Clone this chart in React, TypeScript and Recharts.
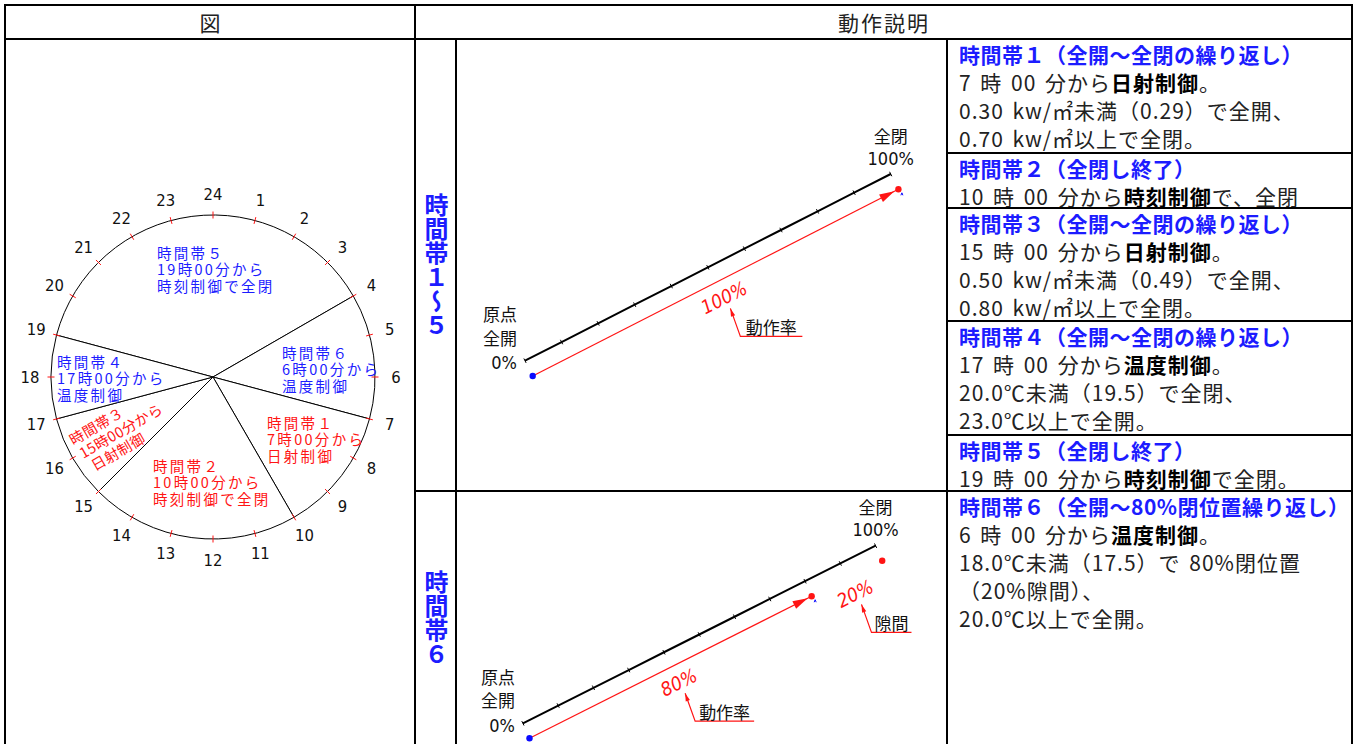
import React from 'react'
import { PieChart, Pie, ComposedChart, Line, XAxis, YAxis, ReferenceDot } from 'recharts'

const BLUE = '#1c1cff'
const RED = '#ff1414'
const INK = '#222'
const JP = "'Noto Sans CJK JP', 'Noto Sans', sans-serif"
const NARROW = "'Liberation Sans Narrow', 'DejaVu Sans Condensed', 'Liberation Sans', sans-serif"
const RAD = Math.PI / 180

// 24時間の時計
const hours = [24, 1, 2, 3, 4, 5, 6, 7, 8, 9, 10, 11, 12, 13, 14, 15, 16, 17, 18, 19, 20, 21, 22, 23]
const bandStart = [19, 4, 7, 10, 15, 17]
const bandTitle = ['時間帯５', '時間帯６', '時間帯１', '時間帯２', '時間帯３', '時間帯４']
const bandFrom = ['19時00分から', '6時00分から', '7時00分から', '10時00分から', '15時00分から', '17時00分から']
const bandMode = ['時刻制御で全閉', '温度制御', '日射制御', '時刻制御で全閉', '日射制御', '温度制御']

// 動作率の図
const scaleSteps = [0, 10, 20, 30, 40, 50, 60, 70, 80, 90, 100]
const rate15 = [0, 100]
const rate6 = [0, 80]
const fullClose = 100

// 動作説明
const rowTitle = [
  '時間帯１（全開～全閉の繰り返し）',
  '時間帯２（全閉し終了）',
  '時間帯３（全開～全閉の繰り返し）',
  '時間帯４（全開～全閉の繰り返し）',
  '時間帯５（全閉し終了）',
  '時間帯６（全開～80%閉位置繰り返し）',
]
const rowBody = [
  ['7 時 00 分から**日射制御**。', '0.30 kw/㎡未満（0.29）で全開、', '0.70 kw/㎡以上で全閉。'],
  ['10 時 00 分から**時刻制御**で、全閉'],
  ['15 時 00 分から**日射制御**。', '0.50 kw/㎡未満（0.49）で全開、', '0.80 kw/㎡以上で全閉。'],
  ['17 時 00 分から**温度制御**。', '20.0℃未満（19.5）で全閉、', '23.0℃以上で全開。'],
  ['19 時 00 分から**時刻制御**で全閉。'],
  ['6 時 00 分から**温度制御**。', '18.0℃未満（17.5）で 80%閉位置', '（20%隙間）、', '20.0℃以上で全開。'],
]
const rowTop = [39, 153, 208, 321, 435, 491]

const bandLabelPos = [
  { dx: -56, dy: -125, color: BLUE, rot: 0, ls: 2.3, shift: [0, 0, 0] },
  { dx: 69, dy: -25, color: BLUE, rot: 0, ls: 2.3, shift: [0, 0, 0] },
  { dx: 54, dy: 45, color: RED, rot: 0, ls: 2.3, shift: [0, 0, 0] },
  { dx: -60, dy: 88, color: RED, rot: 0, ls: 2.3, shift: [0, 0, 0] },
  { dx: -143, dy: 63, color: RED, rot: -30, ls: 0.4, shift: [0, 2, 6] },
  { dx: -156, dy: -16, color: BLUE, rot: 0, ls: 2.3, shift: [0, 0, 0] },
]

const bandData = bandStart.map((h, i) => ({
  name: bandTitle[i],
  hours: (bandStart[(i + 1) % bandStart.length] - h + 24) % 24,
}))
const hourData = hours.map((h) => ({ hour: h, v: 1 }))

function Rule({ x, y, w, h }: { x: number; y: number; w: number; h: number }) {
  return <div style={{ position: 'absolute', left: x, top: y, width: w, height: h, background: '#000' }} />
}

function renderBandLabel(p: any) {
  const L = bandLabelPos[p.index]
  const x = p.cx + L.dx
  const y = p.cy + L.dy
  const lines = [bandTitle[p.index], bandFrom[p.index], bandMode[p.index]]
  return (
    <g key={`band-${p.index}`} transform={`translate(${x} ${y}) rotate(${L.rot})`}>
      {lines.map((t, i) => (
        <text
          key={i}
          x={L.shift[i]}
          y={i * 16.6}
          dominantBaseline="central"
          fill={L.color}
          fontSize={14.5}
          letterSpacing={L.ls}
          fontFamily={JP}
        >
          {t}
        </text>
      ))}
    </g>
  )
}

function renderHour(p: any) {
  const a = -p.midAngle * RAD
  const c = Math.cos(a)
  const s = Math.sin(a)
  const r = p.outerRadius
  const tr = r + 21
  return (
    <g key={`hour-${p.index}`}>
      <line x1={p.cx + c * (r - 3.5)} y1={p.cy + s * (r - 3.5)} x2={p.cx + c * (r + 3.5)} y2={p.cy + s * (r + 3.5)} stroke={RED} strokeWidth={1} />
      <text
        x={p.cx + c * tr}
        y={p.cy + s * tr}
        textAnchor="middle"
        dominantBaseline="central"
        fontSize={16.5}
        fill="#111"
        fontFamily={NARROW}
      >
        {hours[p.index]}
      </text>
    </g>
  )
}

function Clock() {
  const start = (((90 - bandStart[0] * 15) % 360) + 360) % 360
  return (
    <PieChart width={408} height={560} margin={{ top: 0, right: 0, bottom: 0, left: 0 }}>
      <Pie
        data={bandData}
        dataKey="hours"
        cx={207}
        cy={337}
        innerRadius={0}
        outerRadius={162}
        startAngle={start}
        endAngle={start - 360}
        fill="#fff"
        stroke="#000"
        strokeWidth={1}
        label={renderBandLabel}
        labelLine={false}
        isAnimationActive={false}
      />
      <Pie
        data={hourData}
        dataKey="v"
        cx={207}
        cy={337}
        innerRadius={0}
        outerRadius={162}
        startAngle={97.5}
        endAngle={-262.5}
        fill="none"
        stroke="none"
        label={renderHour}
        labelLine={false}
        isAnimationActive={false}
      />
    </PieChart>
  )
}

type Note = { at: number; text: string; tag: string; tagW: number }

function Diagram({
  w,
  h,
  p0,
  p100,
  shift,
  rate,
  gapEnd,
  notes,
}: {
  w: number
  h: number
  p0: [number, number]
  p100: [number, number]
  shift: [number, number]
  rate: number[]
  gapEnd?: number
  notes: Note[]
}) {
  const sx = (p100[0] - p0[0]) / 100
  const sy = (p0[1] - p100[1]) / 100
  const xLo = -p0[0] / sx
  const xHi = (w - p0[0]) / sx
  const yHi = p0[1] / sy
  const yLo = (p0[1] - h) / sy
  const xr: [number, number] = [xLo - shift[0] / sx, xHi - shift[0] / sx]
  const yr: [number, number] = [yLo + shift[1] / sy, yHi + shift[1] / sy]

  const ang = Math.atan2(p100[1] - p0[1], p100[0] - p0[0])
  const ux = Math.cos(ang)
  const uy = Math.sin(ang)
  const px = -uy
  const py = ux
  const angDeg = ang / RAD

  const black = scaleSteps.map((v) => ({ p: v, q: v }))
  const red = rate.map((v) => ({ p: v, q: v }))

  const tickDot = (d: any) => (
    <line
      key={`t${d.index}`}
      x1={d.cx - px * 2.5}
      y1={d.cy - py * 2.5}
      x2={d.cx + px * 2.5}
      y2={d.cy + py * 2.5}
      stroke="#000"
      strokeWidth={1}
    />
  )

  const redDot = (d: any) => {
    if (d.index === 0) return <circle key="r0" cx={d.cx} cy={d.cy} r={3.2} fill="#0a0aff" />
    if (d.index !== red.length - 1) return <g key={`r${d.index}`} />
    const tx = d.cx - ux * 4.5
    const ty = d.cy - uy * 4.5
    const bx = tx - ux * 15
    const by = ty - uy * 15
    return (
      <g key={`r${d.index}`}>
        <polygon
          points={`${tx},${ty} ${bx + px * 4.2},${by + py * 4.2} ${bx - px * 4.2},${by - py * 4.2}`}
          fill={RED}
        />
        <circle cx={d.cx} cy={d.cy} r={3.2} fill={RED} />
        <path d={`M${d.cx + 2.5} ${d.cy + 6} L${d.cx + 3.5} ${d.cy + 3.5} L${d.cx + 4.5} ${d.cy + 6}`} stroke="#0a0aff" strokeWidth={1} fill="none" />
      </g>
    )
  }

  const originShape = (d: any) => (
    <g>
      {['原点', '全開'].map((t, i) => (
        <text key={t} x={d.cx - 8} y={d.cy - 47 + i * 23.5} textAnchor="end" dominantBaseline="central" fontSize={17} fill="#111" fontFamily={JP}>
          {t}
        </text>
      ))}
      <text x={d.cx - 8} y={d.cy + 2} textAnchor="end" dominantBaseline="central" fontSize={18} fill="#111" fontFamily={NARROW}>
        0%
      </text>
    </g>
  )

  const endShape = (d: any) => (
    <g>
      <text x={d.cx} y={d.cy - 39} textAnchor="middle" dominantBaseline="central" fontSize={17} fill="#111" fontFamily={JP}>
        全閉
      </text>
      <text x={d.cx} y={d.cy - 16} textAnchor="middle" dominantBaseline="central" fontSize={18} fill="#111" fontFamily={NARROW}>
        100%
      </text>
    </g>
  )

  const noteShape = (n: Note) => (d: any) => {
    const lx = d.cx + 1
    const ly = d.cy + 18.5
    const tip = [lx + 6.5, ly + 11]
    const cor = [lx + 16.5, ly + 39]
    const len = Math.hypot(tip[0] - cor[0], tip[1] - cor[1])
    const dx = (tip[0] - cor[0]) / len
    const dy = (tip[1] - cor[1]) / len
    const bx = tip[0] - dx * 8
    const by = tip[1] - dy * 8
    return (
      <g>
        <text
          x={lx}
          y={ly}
          transform={`rotate(${angDeg} ${lx} ${ly})`}
          textAnchor="middle"
          dominantBaseline="central"
          fill={RED}
          fontSize={19}
          fontStyle="italic"
          fontFamily={NARROW}
        >
          {n.text}
        </text>
        <polyline
          points={`${tip[0]},${tip[1]} ${cor[0]},${cor[1]} ${cor[0] + n.tagW},${cor[1]}`}
          fill="none"
          stroke={RED}
          strokeWidth={1.2}
        />
        <polygon
          points={`${tip[0]},${tip[1]} ${bx - dy * 2.2},${by + dx * 2.2} ${bx + dy * 2.2},${by - dx * 2.2}`}
          fill={RED}
        />
        <text
          x={cor[0] + n.tagW / 2}
          y={cor[1] - 10}
          textAnchor="middle"
          dominantBaseline="central"
          fontSize={17}
          fill="#111"
          fontFamily={JP}
        >
          {n.tag}
        </text>
      </g>
    )
  }

  return (
    <ComposedChart width={w} height={h} margin={{ top: 0, right: 0, bottom: 0, left: 0 }}>
      <XAxis xAxisId="b" type="number" dataKey="p" domain={[xLo, xHi]} allowDataOverflow hide />
      <YAxis yAxisId="b" type="number" domain={[yLo, yHi]} allowDataOverflow hide />
      <XAxis xAxisId="r" type="number" dataKey="p" domain={xr} allowDataOverflow hide />
      <YAxis yAxisId="r" type="number" domain={yr} allowDataOverflow hide />
      <Line
        xAxisId="b"
        yAxisId="b"
        data={black}
        dataKey="q"
        stroke="#000"
        strokeWidth={2}
        dot={tickDot}
        activeDot={false}
        isAnimationActive={false}
      />
      <Line
        xAxisId="r"
        yAxisId="r"
        data={red}
        dataKey="q"
        stroke={RED}
        strokeWidth={1.2}
        dot={redDot}
        activeDot={false}
        isAnimationActive={false}
      />
      {gapEnd !== undefined && (
        <ReferenceDot xAxisId="r" yAxisId="r" x={gapEnd} y={gapEnd} r={3.2} fill={RED} stroke="none" />
      )}
      <ReferenceDot xAxisId="b" yAxisId="b" x={scaleSteps[0]} y={scaleSteps[0]} r={1} shape={originShape} />
      <ReferenceDot
        xAxisId="b"
        yAxisId="b"
        x={scaleSteps[scaleSteps.length - 1]}
        y={scaleSteps[scaleSteps.length - 1]}
        r={1}
        shape={endShape}
      />
      {notes.map((n) => (
        <ReferenceDot key={n.text} xAxisId="r" yAxisId="r" x={n.at} y={n.at} r={1} shape={noteShape(n)} />
      ))}
    </ComposedChart>
  )
}

function rich(s: string) {
  return s.split('**').map((part, i) =>
    i % 2 ? (
      <b key={i} style={{ color: '#000', fontWeight: 700 }}>
        {part}
      </b>
    ) : (
      <span key={i}>{part}</span>
    ),
  )
}

export default function App() {
  const vert: React.CSSProperties = {
    position: 'absolute',
    left: 416,
    width: 40,
    display: 'flex',
    alignItems: 'center',
    justifyContent: 'center',
    writingMode: 'vertical-rl',
    textOrientation: 'upright',
    color: BLUE,
    fontWeight: 700,
    fontSize: 24,
    lineHeight: 1,
    fontFamily: JP,
  }
  return (
    <div
      style={{
        position: 'fixed',
        left: 0,
        top: 0,
        width: 1358,
        height: 744,
        background: '#fff',
        overflow: 'hidden',
        fontFamily: JP,
      }}
    >
      {/* header */}
      <div style={{ position: 'absolute', left: 5, top: 6, width: 410, height: 33, lineHeight: '33px', textAlign: 'center', fontSize: 21, color: INK }}>
        図
      </div>
      <div style={{ position: 'absolute', left: 416, top: 6, width: 936, height: 33, lineHeight: '33px', textAlign: 'center', fontSize: 21, letterSpacing: 2, color: INK }}>
        動作説明
      </div>

      {/* explanation rows */}
      {rowTitle.map((t, i) => (
        <div
          key={t}
          style={{
            position: 'absolute',
            left: 959,
            top: rowTop[i] + 1,
            fontSize: 21,
            lineHeight: '28px',
            whiteSpace: 'pre',
            color: INK,
          }}
        >
          <div style={{ color: BLUE, fontWeight: 700, letterSpacing: 0.5 }}>{t}</div>
          {rowBody[i].map((ln, j) => (
            <div key={j} style={{ letterSpacing: 1, wordSpacing: 3 }}>
              {rich(ln)}
            </div>
          ))}
        </div>
      ))}

      {/* vertical titles */}
      <div style={{ ...vert, top: 40, height: 450 }}>時間帯１～５</div>
      <div style={{ ...vert, top: 492, height: 252 }}>時間帯６</div>

      {/* clock */}
      <div style={{ position: 'absolute', left: 6, top: 40 }}>
        <Clock />
      </div>

      {/* diagrams */}
      <div style={{ position: 'absolute', left: 457, top: 40 }}>
        <Diagram w={489} h={450} p0={[68, 320.7]} p100={[433.7, 134]} shift={[7.7, 15.3]} rate={rate15} notes={[{ at: 52, text: '100%', tag: '動作率', tagW: 62 }]} />
      </div>
      <div style={{ position: 'absolute', left: 457, top: 492 }}>
        <Diagram
          w={489}
          h={252}
          p0={[65.9, 231.3]}
          p100={[418.6, 53.7]}
          shift={[6.6, 15]}
          rate={rate6}
          gapEnd={fullClose}
          notes={[
            { at: 42, text: '80%', tag: '動作率', tagW: 59 },
            { at: 92, text: '20%', tag: '隙間', tagW: 40 },
          ]}
        />
      </div>

      {/* table rules */}
      <Rule x={4} y={4} w={1349} h={2} />
      <Rule x={4} y={38} w={1349} h={2} />
      <Rule x={4} y={4} w={2} h={740} />
      <Rule x={1351} y={4} w={2} h={740} />
      <Rule x={414} y={4} w={2} h={740} />
      <Rule x={455} y={39} w={2} h={705} />
      <Rule x={946} y={39} w={2} h={705} />
      {rowTop.slice(1, 5).map((y) => (
        <Rule key={y} x={947} y={y - 1} w={405} h={2} />
      ))}
      <Rule x={415} y={rowTop[5] - 1} w={937} h={2} />
    </div>
  )
}
